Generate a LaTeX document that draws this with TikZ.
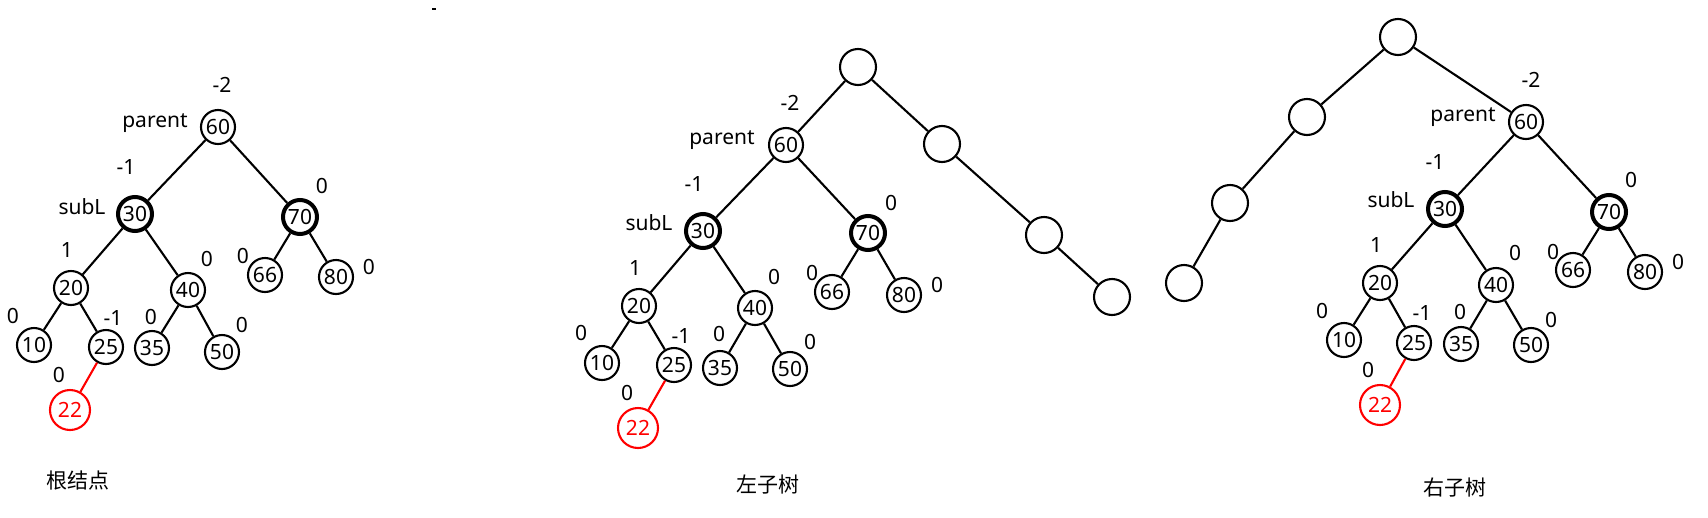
\documentclass[tikz,border=0pt]{standalone}
\usepackage{fontspec}
\setmainfont{Noto Sans}
\newfontfamily\cjk{Noto Sans CJK SC}
\begin{document}
\begin{tikzpicture}[x=1pt,y=-1pt,
  nd/.style={circle,draw,line width=2.1pt,minimum size=34pt,inner sep=0pt,font=\fontsize{21}{21}\selectfont},
  thick nd/.style={nd,line width=4pt},
  empty nd/.style={nd,minimum size=36pt},
  new nd/.style={nd,draw=red,text=red,minimum size=40pt},
  lbl/.style={inner sep=0pt,font=\fontsize{21}{21}\selectfont},
  captxt/.style={inner sep=0pt,font=\cjk\fontsize{21}{21}\selectfont},
  link/.style={line width=2.1pt},
  newlink/.style={line width=2.1pt,red}]
\useasboundingbox (0,0) rectangle (1708,517);
\fill[white] (0,0) rectangle (1708,517);
% ---------------- left tree ----------------
\node[nd] (A60) at (218,127) {60};
\node[thick nd] (A30) at (135,214) {30};
\node[thick nd] (A70) at (300,217) {70};
\node[nd] (A20) at (71,288) {20};
\node[nd] (A40) at (188,290) {40};
\node[nd] (A66) at (265,275) {66};
\node[nd] (A80) at (336,277) {80};
\node[nd] (A10) at (34,345) {10};
\node[nd] (A25) at (106,347) {25};
\node[nd] (A35) at (152,348) {35};
\node[nd] (A50) at (222,352) {50};
\node[new nd] (A22) at (70,410) {22};
\draw[link] (A60) -- (A30); \draw[link] (A60) -- (A70);
\draw[link] (A30) -- (A20); \draw[link] (A30) -- (A40);
\draw[link] (A70) -- (A66); \draw[link] (A70) -- (A80);
\draw[link] (A20) -- (A10); \draw[link] (A20) -- (A25);
\draw[link] (A40) -- (A35); \draw[link] (A40) -- (A50);
\draw[newlink] (A25) -- (A22);
\node[lbl] (Al1) at (222,85) {-2};
\node[lbl] (Al2) at (155,123) {parent};
\node[lbl] (Al3) at (126,167) {-1};
\node[lbl] (Al4) at (82,207) {subL};
\node[lbl] (Al5) at (322,186) {0};
\node[lbl] (Al6) at (67,250) {1};
\node[lbl] (Al7) at (207,259) {0};
\node[lbl] (Al8) at (243,256) {0};
\node[lbl] (Al9) at (369,267) {0};
\node[lbl] (Al10) at (13,316) {0};
\node[lbl] (Al11) at (113,318) {-1};
\node[lbl] (Al12) at (151,317) {0};
\node[lbl] (Al13) at (242,325) {0};
\node[lbl] (Al14) at (59,375) {0};
\node[captxt] (Acap) at (78,481) {根结点};
% ---------------- middle tree ----------------
\node[empty nd] (Bt) at (858,67) {};
\node[empty nd] (Be2) at (942,144) {};
\node[empty nd] (Be3) at (1044,235) {};
\node[empty nd] (Be4) at (1112,297) {};
\node[nd] (B60) at (786,145) {60};
\node[thick nd] (B30) at (703,231) {30};
\node[thick nd] (B70) at (868,233) {70};
\node[nd] (B20) at (639,306) {20};
\node[nd] (B40) at (755,308) {40};
\node[nd] (B66) at (832,292) {66};
\node[nd] (B80) at (904,295) {80};
\node[nd] (B10) at (602,363) {10};
\node[nd] (B25) at (674,365) {25};
\node[nd] (B35) at (720,368) {35};
\node[nd] (B50) at (790,369) {50};
\node[new nd] (B22) at (638,428) {22};
\draw[link] (Bt) -- (B60); \draw[link] (Bt) -- (Be2);
\draw[link] (Be2) -- (Be3); \draw[link] (Be3) -- (Be4);
\draw[link] (B60) -- (B30); \draw[link] (B60) -- (B70);
\draw[link] (B30) -- (B20); \draw[link] (B30) -- (B40);
\draw[link] (B70) -- (B66); \draw[link] (B70) -- (B80);
\draw[link] (B20) -- (B10); \draw[link] (B20) -- (B25);
\draw[link] (B40) -- (B35); \draw[link] (B40) -- (B50);
\draw[newlink] (B25) -- (B22);
\node[lbl] (Bl1) at (790,103) {-2};
\node[lbl] (Bl2) at (722,140) {parent};
\node[lbl] (Bl3) at (694,184) {-1};
\node[lbl] (Bl4) at (649,223) {subL};
\node[lbl] (Bl5) at (891,203) {0};
\node[lbl] (Bl6) at (635,268) {1};
\node[lbl] (Bl7) at (774,277) {0};
\node[lbl] (Bl8) at (812,273) {0};
\node[lbl] (Bl9) at (937,285) {0};
\node[lbl] (Bl10) at (581,333) {0};
\node[lbl] (Bl11) at (681,336) {-1};
\node[lbl] (Bl12) at (719,334) {0};
\node[lbl] (Bl13) at (810,342) {0};
\node[lbl] (Bl14) at (627,393) {0};
\node[captxt] (Bcap) at (768,485) {左子树};
% ---------------- right tree ----------------
\node[empty nd] (Ct) at (1398,37) {};
\node[empty nd] (Ce2) at (1307,117) {};
\node[empty nd] (Ce3) at (1230,203) {};
\node[empty nd] (Ce4) at (1184,283) {};
\node[nd] (C60) at (1526,122) {60};
\node[thick nd] (C30) at (1445,209) {30};
\node[thick nd] (C70) at (1609,212) {70};
\node[nd] (C20) at (1380,283) {20};
\node[nd] (C40) at (1496,285) {40};
\node[nd] (C66) at (1573,270) {66};
\node[nd] (C80) at (1645,272) {80};
\node[nd] (C10) at (1344,340) {10};
\node[nd] (C25) at (1414,343) {25};
\node[nd] (C35) at (1461,344) {35};
\node[nd] (C50) at (1531,345) {50};
\node[new nd] (C22) at (1380,405) {22};
\draw[link] (Ct) -- (C60); \draw[link] (Ct) -- (Ce2);
\draw[link] (Ce2) -- (Ce3); \draw[link] (Ce3) -- (Ce4);
\draw[link] (C60) -- (C30); \draw[link] (C60) -- (C70);
\draw[link] (C30) -- (C20); \draw[link] (C30) -- (C40);
\draw[link] (C70) -- (C66); \draw[link] (C70) -- (C80);
\draw[link] (C20) -- (C10); \draw[link] (C20) -- (C25);
\draw[link] (C40) -- (C35); \draw[link] (C40) -- (C50);
\draw[newlink] (C25) -- (C22);
\node[lbl] (Cl1) at (1531,80) {-2};
\node[lbl] (Cl2) at (1463,117) {parent};
\node[lbl] (Cl3) at (1435,162) {-1};
\node[lbl] (Cl4) at (1391,200) {subL};
\node[lbl] (Cl5) at (1631,180) {0};
\node[lbl] (Cl6) at (1376,245) {1};
\node[lbl] (Cl7) at (1515,253) {0};
\node[lbl] (Cl8) at (1553,252) {0};
\node[lbl] (Cl9) at (1678,262) {0};
\node[lbl] (Cl10) at (1322,311) {0};
\node[lbl] (Cl11) at (1422,313) {-1};
\node[lbl] (Cl12) at (1460,312) {0};
\node[lbl] (Cl13) at (1551,320) {0};
\node[lbl] (Cl14) at (1368,370) {0};
\node[captxt] (Ccap) at (1455,488) {右子树};
% stray mark
\draw[line width=1.5pt] (432,9) -- (436,9);
\end{tikzpicture}
\end{document}
